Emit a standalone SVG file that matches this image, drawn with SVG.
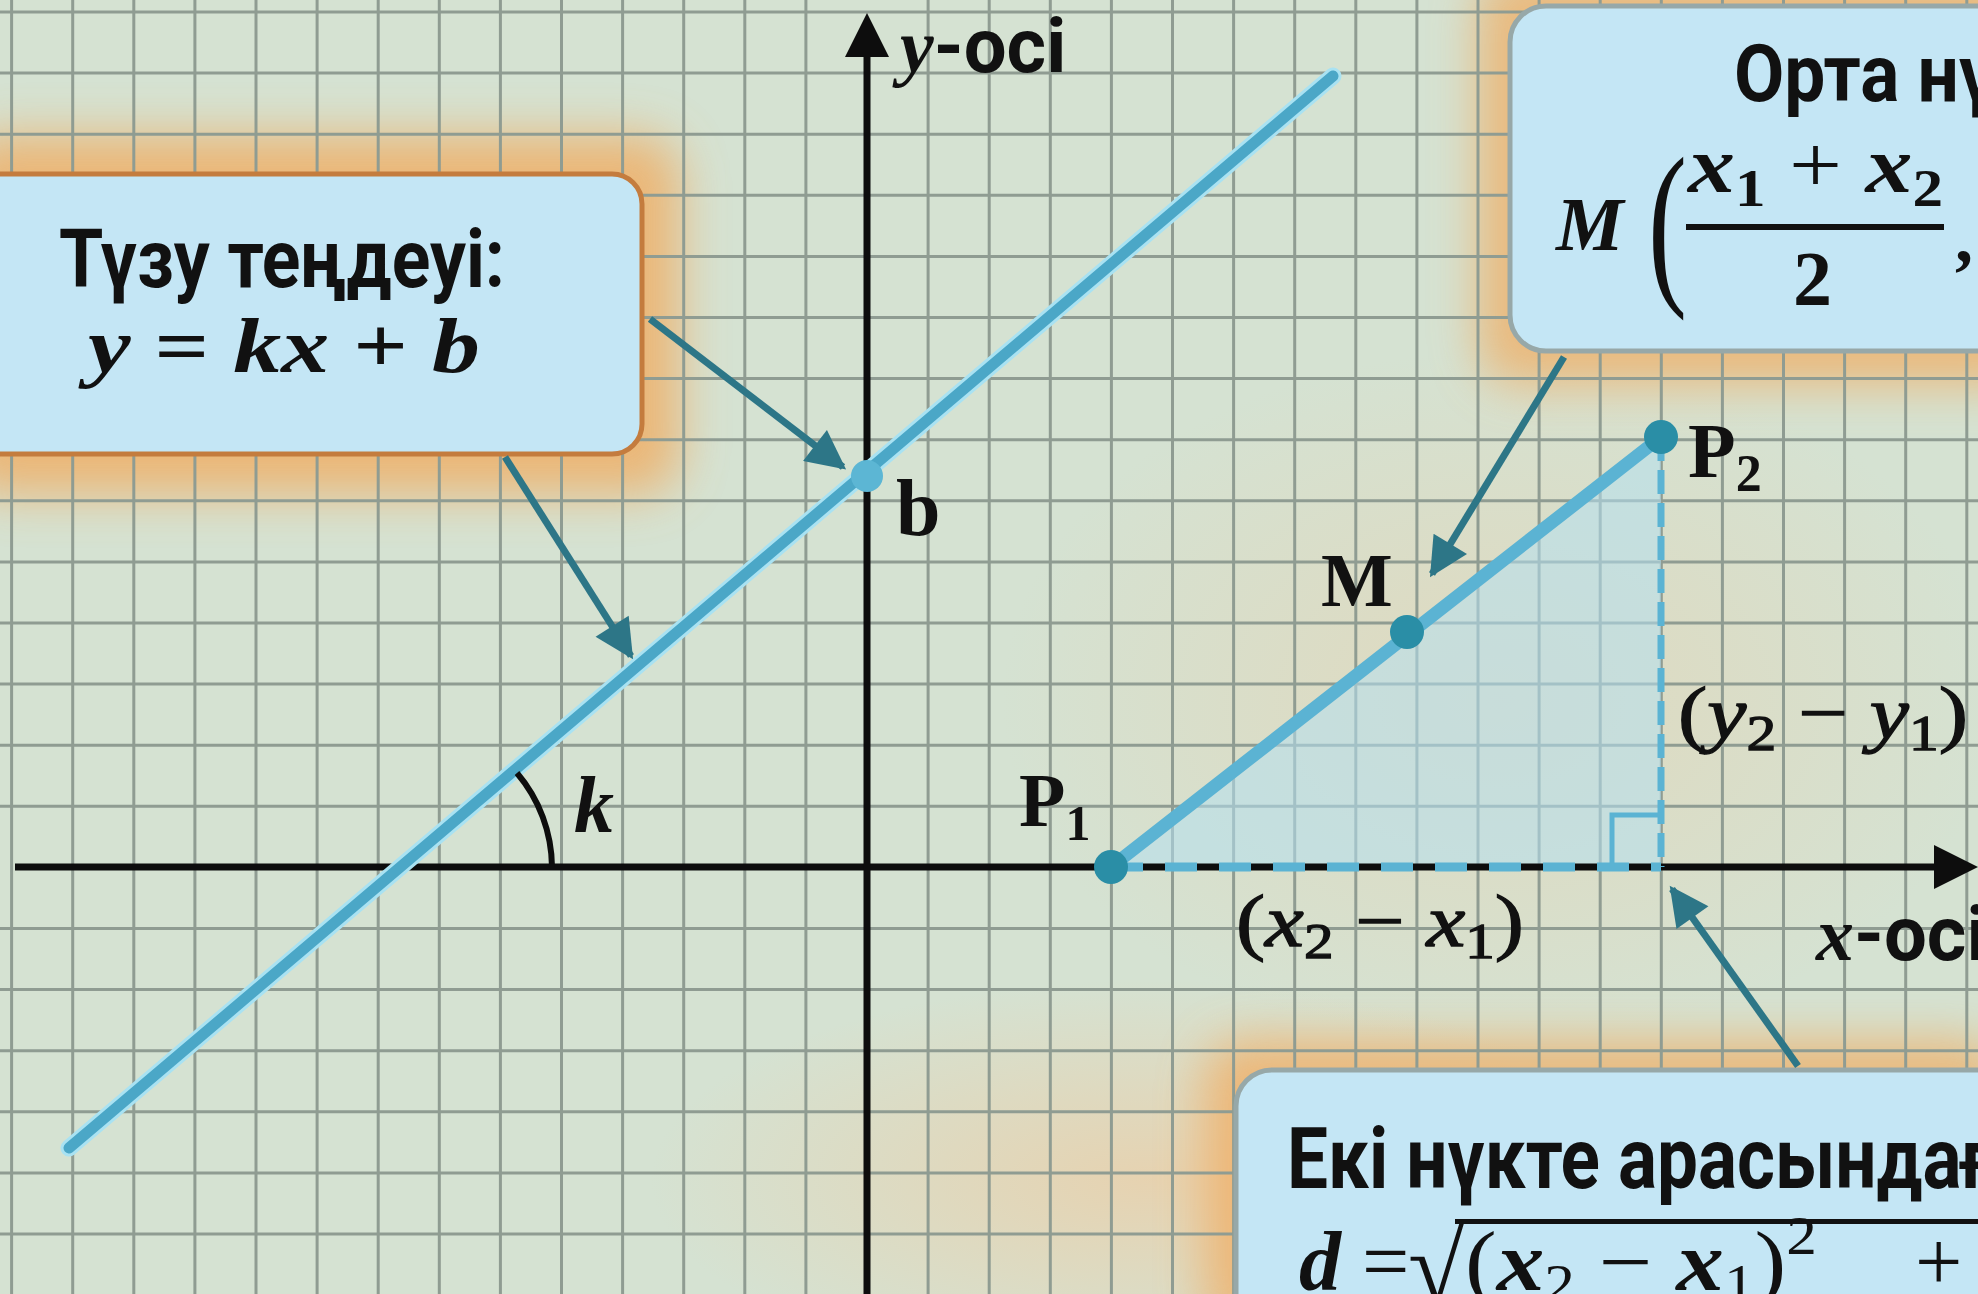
<svg xmlns="http://www.w3.org/2000/svg" width="1978" height="1294" viewBox="0 0 1978 1294">
<style>
.sans{font-family:"Roboto","Liberation Sans",sans-serif;font-weight:700;fill:#111}
.math{font-family:"Liberation Serif","DejaVu Serif",serif;font-weight:700;fill:#111}
.reg{font-weight:400}
.thick{stroke:#111;stroke-width:1.3}
.it{font-style:italic}
.up{font-style:normal}
.box{fill:#c4e6f5;stroke-width:5}
.conn{stroke:#2d7687;stroke-width:7;fill:none;marker-end:url(#ah)}
.grid{stroke:#8f9c92;stroke-width:3;fill:none}
.glow{fill:#f3a858;filter:url(#blur)}
.pt{fill:#2a8ea6}
</style>
<defs>
<filter id="blur" x="-30%" y="-30%" width="160%" height="160%"><feGaussianBlur stdDeviation="24"/></filter>
<marker id="ah" viewBox="0 0 10 10" refX="9" refY="5" markerWidth="6" markerHeight="5.6" orient="auto" markerUnits="strokeWidth"><path d="M0,0 L10,5 L0,10 z" fill="#2d7687"/></marker>
<radialGradient id="warm" cx="0.5" cy="0.5" r="0.5"><stop offset="0" stop-color="#f2c89a" stop-opacity="0.6"/><stop offset="1" stop-color="#f2c89a" stop-opacity="0"/></radialGradient>
</defs>
<rect width="1978" height="1294" fill="#d5e2d2"/>
<ellipse cx="1150" cy="1180" rx="500" ry="200" fill="url(#warm)"/>
<ellipse cx="1500" cy="700" rx="500" ry="350" fill="url(#warm)" opacity="0.6"/>
<g id="glows">
<rect class="glow" x="-40" y="135" width="720" height="360" rx="40" opacity="0.75"/>
<rect class="glow" x="1478" y="-30" width="560" height="415" rx="40" opacity="0.7"/>
<rect class="glow" x="1205" y="1040" width="800" height="300" rx="40" opacity="0.7"/>
</g>
<path class="grid" d="M11.6 0V1294M72.7 0V1294M133.8 0V1294M194.9 0V1294M256 0V1294M317.1 0V1294M378.2 0V1294M439.3 0V1294M500.4 0V1294M561.5 0V1294M622.6 0V1294M683.7 0V1294M744.8 0V1294M805.9 0V1294M928.1 0V1294M989.2 0V1294M1050.3 0V1294M1111.4 0V1294M1172.5 0V1294M1233.6 0V1294M1294.7 0V1294M1355.8 0V1294M1416.9 0V1294M1478 0V1294M1539.1 0V1294M1600.2 0V1294M1661.3 0V1294M1722.4 0V1294M1783.5 0V1294M1844.6 0V1294M1905.7 0V1294M1966.8 0V1294M0 12H1978M0 73.1H1978M0 134.2H1978M0 195.3H1978M0 256.4H1978M0 317.5H1978M0 378.6H1978M0 439.7H1978M0 500.8H1978M0 561.9H1978M0 623H1978M0 684.1H1978M0 745.2H1978M0 806.3H1978M0 928.5H1978M0 989.6H1978M0 1050.7H1978M0 1111.8H1978M0 1172.9H1978M0 1234H1978"/>

<g id="triangle">
<polygon points="1111,867 1661,437 1661,867" fill="#b4e0f0" opacity="0.55"/>
</g>

<g id="axes">
<line x1="15" y1="867" x2="1940" y2="867" stroke="#0d0d0d" stroke-width="7"/>
<polygon points="1978,867 1934,845 1934,889" fill="#0d0d0d"/>
<line x1="867" y1="1294" x2="867" y2="50" stroke="#0d0d0d" stroke-width="7"/>
<polygon points="867,13 845,57 889,57" fill="#0d0d0d"/>
</g>

<g id="main-line">
<line x1="69" y1="1148" x2="1333" y2="76" stroke="#a9e2f2" stroke-width="17" stroke-linecap="round"/>
<line x1="69" y1="1148" x2="1333" y2="76" stroke="#4ba7c7" stroke-width="11" stroke-linecap="round"/>
</g>

<g id="angle-k">
<path d="M517 773 A147 147 0 0 1 552 867" fill="none" stroke="#0d0d0d" stroke-width="6"/>
<text class="math it" x="574" y="832" font-size="80">k</text>
</g>

<g id="point-b">
<circle cx="867" cy="476" r="16" fill="#5cb6d4"/>
<text class="math" x="896" y="535" font-size="80">b</text>
</g>

<g id="segment">
<line x1="1661" y1="437" x2="1661" y2="867" stroke="#5bb3d3" stroke-width="7" stroke-dasharray="24 9"/>
<line x1="1111" y1="867" x2="1661" y2="867" stroke="#5bb3d3" stroke-width="9" stroke-dasharray="32 22"/>
<path d="M1612 867 V815 H1661" fill="none" stroke="#5bb3d3" stroke-width="5"/>
<line x1="1111" y1="867" x2="1661" y2="437" stroke="#5bb3d3" stroke-width="13" stroke-linecap="round"/>
</g>

<g id="point-P1">
<circle class="pt" cx="1111" cy="867" r="17"/>
<text class="math" x="1019" y="826" font-size="76">P<tspan font-size="50" dy="14">1</tspan></text>
</g>
<g id="point-M">
<circle class="pt" cx="1407" cy="632" r="17"/>
<text class="math" x="1321" y="606" font-size="76">M</text>
</g>
<g id="point-P2">
<circle class="pt" cx="1661" cy="437" r="17"/>
<text class="math" x="1688" y="477" font-size="78">P<tspan font-size="52" dy="14">2</tspan></text>
</g>

<g id="label-dx">
<text class="math reg thick" x="1236" y="946" font-size="74" textLength="288" lengthAdjust="spacingAndGlyphs"><tspan class="up">(</tspan><tspan class="it">x</tspan><tspan class="up" font-size="50" dy="12">2</tspan><tspan class="up" dy="-12"> − </tspan><tspan class="it">x</tspan><tspan class="up" font-size="50" dy="12">1</tspan><tspan class="up" dy="-12">)</tspan></text>
</g>
<g id="label-dy">
<text class="math reg thick" x="1678" y="738" font-size="74" textLength="290" lengthAdjust="spacingAndGlyphs"><tspan class="up">(</tspan><tspan class="it">y</tspan><tspan class="up" font-size="50" dy="12">2</tspan><tspan class="up" dy="-12"> − </tspan><tspan class="it">y</tspan><tspan class="up" font-size="50" dy="12">1</tspan><tspan class="up" dy="-12">)</tspan></text>
</g>

<g id="axis-labels">
<text x="900" y="72" font-size="76"><tspan class="math it">y</tspan><tspan class="sans">-осі</tspan></text>
<text x="1816" y="960" font-size="76"><tspan class="math it">x</tspan><tspan class="sans">-осі</tspan></text>
</g>

<g id="box-line-eq">
<rect class="box" x="-30" y="174" width="672" height="280" rx="30" stroke="#c47c3e"/>
<text class="sans" x="59" y="287" font-size="82" textLength="446" lengthAdjust="spacingAndGlyphs">Түзу теңдеуі:</text>
<text class="math" x="88" y="372" font-size="78" textLength="392" lengthAdjust="spacingAndGlyphs"><tspan class="it">y</tspan> = <tspan class="it">kx</tspan> + <tspan class="it">b</tspan></text>
</g>

<g id="box-midpoint">
<rect class="box" x="1510" y="6" width="520" height="345" rx="36" stroke="#97a8a8"/>
<text class="sans" x="1734" y="101" font-size="80" textLength="262" lengthAdjust="spacingAndGlyphs">Орта нү</text>
<text class="math it" x="1556" y="250" font-size="76">M</text>
<text class="math reg" x="0" y="0" font-size="130" transform="translate(1648 282) scale(0.9 1.38)">(</text>
<text class="math" x="1688" y="192" font-size="80" textLength="255" lengthAdjust="spacingAndGlyphs"><tspan class="it">x</tspan><tspan class="up" font-size="52" dy="14">1</tspan><tspan class="up reg" dy="-14"> + </tspan><tspan class="it">x</tspan><tspan class="up" font-size="52" dy="14">2</tspan></text>
<rect x="1686" y="224" width="258" height="6" fill="#111"/>
<text class="math" x="1793" y="305" font-size="78">2</text>
<text class="math" x="1955" y="262" font-size="72">,</text>
</g>

<g id="box-distance">
<rect class="box" x="1236" y="1070" width="790" height="280" rx="36" stroke="#97a8a8"/>
<text class="sans" x="1287" y="1188" font-size="86" textLength="705" lengthAdjust="spacingAndGlyphs">Екі нүкте арасындағ</text>
<text class="math" x="1299" y="1290" font-size="84"><tspan class="it">d</tspan><tspan class="reg"> =</tspan></text>
<text class="math reg" x="1408" y="1302" font-size="104">√</text>
<rect x="1455" y="1219" width="540" height="5" fill="#111"/>
<text class="math reg" x="1465" y="1290" font-size="84" textLength="352" lengthAdjust="spacingAndGlyphs"><tspan class="up">(</tspan><tspan class="it" style="font-weight:700">x</tspan><tspan class="up" font-size="54" dy="12">2</tspan><tspan class="up" dy="-12"> − </tspan><tspan class="it" style="font-weight:700">x</tspan><tspan class="up" font-size="54" dy="12">1</tspan><tspan class="up" dy="-12">)</tspan><tspan font-size="54" dy="-36">2</tspan></text>
<text class="math reg" x="1915" y="1290" font-size="84">+</text>
</g>

<g id="connectors">
<line class="conn" x1="650" y1="319" x2="843" y2="467"/>
<line class="conn" x1="505" y1="457" x2="631" y2="656"/>
<line class="conn" x1="1564" y1="357" x2="1432" y2="574"/>
<line class="conn" x1="1798" y1="1066" x2="1672" y2="889"/>
</g>
</svg>
